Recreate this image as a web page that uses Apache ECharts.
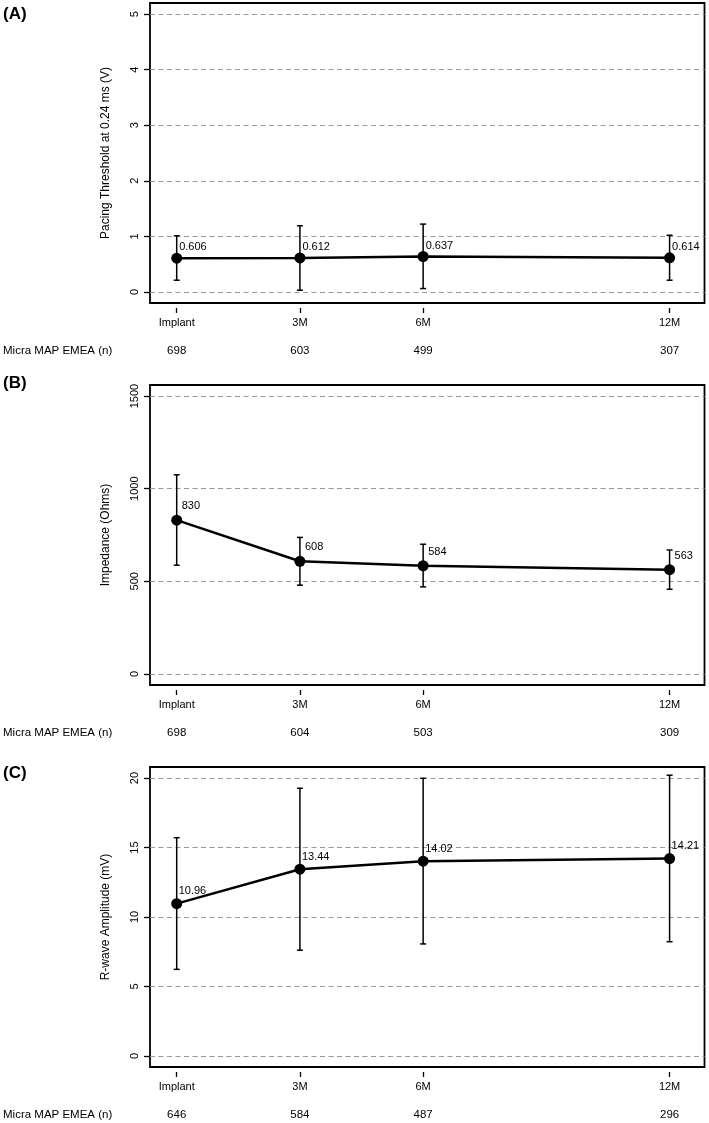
<!DOCTYPE html>
<html><head><meta charset="utf-8">
<script src="https://cdn.jsdelivr.net/npm/echarts@6/dist/echarts.min.js"></script>
<style>html,body{margin:0;padding:0;background:#fff}#c{width:709px;height:1123px}</style>
</head><body><div id="c"></div>
<script>
// ---- data ----
const timepoints = [0, 3, 6, 12];
const xTickLabels = ['Implant', '3M', '6M', '12M'];
const nRowLabel = 'Micra MAP EMEA (n)';
const panelLetters = ['(A)', '(B)', '(C)'];
const yTitles = ['Pacing Threshold at 0.24 ms (V)', 'Impedance (Ohms)', 'R-wave Amplitude (mV)'];

const thrMean = [0.606, 0.612, 0.637, 0.614];
const thrLow = [0.21, 0.03, 0.06, 0.21];
const thrHigh = [1.01, 1.19, 1.22, 1.02];
const thrN = [698, 603, 499, 307];
const thrTicks = [0, 1, 2, 3, 4, 5];

const impMean = [830, 608, 584, 563];
const impLow = [587, 479, 470, 457];
const impHigh = [1075, 737, 700, 669];
const impN = [698, 604, 503, 309];
const impTicks = [0, 500, 1000, 1500];

const rMean = [10.96, 13.44, 14.02, 14.21];
const rLow = [6.23, 7.61, 8.06, 8.22];
const rHigh = [15.71, 19.27, 19.99, 20.21];
const rN = [646, 584, 487, 296];
const rTicks = [0, 5, 10, 15, 20];

// ---- layout ----
const panels = [
  {mean: thrMean, low: thrLow, high: thrHigh, n: thrN, ticks: thrTicks, dec: 3, top: 3, lab: [2.5, 11], letterY: 14},
  {mean: impMean, low: impLow, high: impHigh, n: impN, ticks: impTicks, dec: 0, top: 385, lab: [5, 14], letterY: 383},
  {mean: rMean, low: rLow, high: rHigh, n: rN, ticks: rTicks, dec: 2, top: 767, lab: [2, 12.5], letterY: 773}
];
const H = 300;
const X_MIN = -0.65, X_MAX = 12.85;
const FONT = '"Liberation Sans", Arial, sans-serif';

function renderErr(params, api) {
  const x = api.value(0);
  const lo = api.coord([x, api.value(1)]);
  const hi = api.coord([x, api.value(2)]);
  const w = 3;
  const style = {stroke: '#000', lineWidth: 1.5};
  return {type: 'group', children: [
    {type: 'line', shape: {x1: lo[0], y1: lo[1], x2: hi[0], y2: hi[1]}, style},
    {type: 'line', shape: {x1: lo[0] - w, y1: lo[1], x2: lo[0] + w, y2: lo[1]}, style},
    {type: 'line', shape: {x1: hi[0] - w, y1: hi[1], x2: hi[0] + w, y2: hi[1]}, style}
  ]};
}

const grid = [], xAxis = [], yAxis = [], series = [], graphic = [];
panels.forEach((p, i) => {
  grid.push({left: 150, right: 4.5, top: p.top, height: H, show: true,
    borderColor: '#000', borderWidth: 1.8, backgroundColor: 'transparent'});
  const tmax = p.ticks[p.ticks.length - 1], tmin = p.ticks[0];
  const pad = (tmax - tmin) * 0.04;
  // main x axis
  xAxis.push({gridIndex: i, type: 'value', position: 'bottom', min: X_MIN, max: X_MAX, offset: 5,
    axisLine: {show: false, onZero: false},
    axisTick: {show: true, customValues: timepoints, length: 5, lineStyle: {color: '#000', width: 1.3}},
    axisLabel: {customValues: timepoints, margin: 9, fontSize: 11, color: '#000', fontFamily: FONT,
      formatter: v => xTickLabels[timepoints.indexOf(v)]},
    splitLine: {show: false}});
  // n-row axis
  xAxis.push({gridIndex: i, type: 'value', position: 'bottom', min: X_MIN, max: X_MAX, offset: 42,
    axisLine: {show: false, onZero: false}, axisTick: {show: false},
    axisLabel: {customValues: timepoints, margin: 0, fontSize: 11.5, color: '#000', fontFamily: FONT,
      formatter: v => String(p.n[timepoints.indexOf(v)])},
    splitLine: {show: false}});
  yAxis.push({gridIndex: i, type: 'value', min: tmin - pad, max: tmax + pad, offset: 0,
    name: yTitles[i], nameLocation: 'middle', nameGap: 38,
    nameTextStyle: {fontSize: 12, color: '#000', fontFamily: FONT},
    axisLine: {show: false, onZero: false},
    axisTick: {show: true, customValues: p.ticks, length: 6, lineStyle: {color: '#000', width: 1.3}},
    axisLabel: {customValues: p.ticks, rotate: 90, margin: 10, fontSize: 11, color: '#000', fontFamily: FONT,
      formatter: v => String(v)},
    splitLine: {show: true, lineStyle: {color: '#999', width: 1, type: [5, 3.5]}}});
  series.push({type: 'custom', xAxisIndex: 2 * i, yAxisIndex: i, renderItem: renderErr,
    encode: {x: 0, y: [1, 2]}, z: 2,
    data: timepoints.map((t, k) => [t, p.low[k], p.high[k]])});
  series.push({type: 'line', xAxisIndex: 2 * i, yAxisIndex: i, z: 3,
    data: timepoints.map((t, k) => [t, p.mean[k]]),
    symbol: 'circle', symbolSize: 11, itemStyle: {color: '#000'},
    lineStyle: {color: '#000', width: 2.5},
    label: {show: true, position: 'inside', align: 'left', verticalAlign: 'middle',
      offset: [p.lab[0], -p.lab[1]], fontSize: 11, color: '#000', fontFamily: FONT,
      formatter: d => d.value[1].toFixed(p.dec)},
    emphasis: {disabled: true}, animation: false});
  graphic.push({type: 'text', x: 3, y: p.letterY,
    style: {text: panelLetters[i], font: 'bold 17px ' + FONT, fill: '#000', verticalAlign: 'middle'}});
  graphic.push({type: 'text', x: 3, y: p.top + H + 48,
    style: {text: nRowLabel, font: '11.5px ' + FONT, fill: '#000', verticalAlign: 'middle'}});
});

const chart = echarts.init(document.getElementById('c'), null, {renderer: 'canvas'});
chart.setOption({animation: false, backgroundColor: '#fff', grid, xAxis, yAxis, series, graphic});
</script></body></html>
